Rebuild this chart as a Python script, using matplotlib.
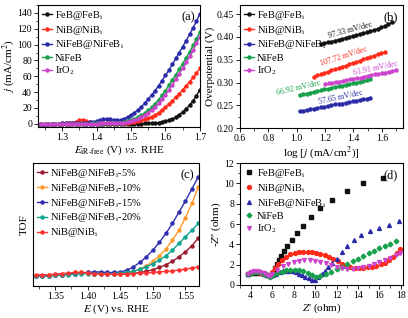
import matplotlib
matplotlib.use("Agg")
import matplotlib.pyplot as plt
import numpy as np
from matplotlib.ticker import AutoMinorLocator, MultipleLocator

plt.rcParams["font.family"] = ["Liberation Serif", "DejaVu Serif"]
plt.rcParams["mathtext.fontset"] = "stix"

# ---- (a) LSV curves ----
E_a = np.round(np.arange(1.23, 1.705, 0.01), 2)
lsv_feb = [-1.0, -0.8, -0.6, -0.5, -0.4, -0.3, -0.3, -0.2, -0.2, -0.2,
           -0.1, -0.1, -0.1, -0.1, -0.1, 0, 0, 0, 0, 0,
           0, 0, 0, 0, 0, 0, 0, 0, 0.1, 0.1,
           0.2, 0.3, 0.4, 0.6, 0.9, 1.4, 2.1, 3.0, 4.3, 6.0,
           8.2, 11.5, 15, 19, 23.5, 29, 35.5, 43]
lsv_nib = [-2.5, -2.0, -1.5, -1.0, -0.6, -0.3, 0, 0.3, 0.5, 0.8,
           1.3, 2.5, 4.2, 5.2, 3.8, 2.2, 1.4, 1.0, 0.8, 0.7,
           0.7, 0.7, 0.7, 0.7, 0.8, 1.0, 1.3, 1.8, 2.5, 3.3,
           4.3, 5.5, 7.0, 9.0, 11, 14, 17.5, 21, 25, 29,
           33.5, 38, 43, 48, 53, 58.5, 64, 70]
lsv_nifeb_core = [-2.0, -1.5, -1.0, -0.6, -0.3, 0, 0.2, 0.4, 0.5, 0.6,
                  0.7, 0.8, 0.9, 1.0, 1.2, 1.6, 2.3, 3.3, 4.5, 5.8,
                  6.3, 5.6, 4.5, 4.3, 5.0, 6.5, 8.5, 11, 14, 17.5,
                  21.5, 26, 31, 36.5, 42, 48, 54.5, 61, 68, 75,
                  82.5, 90, 97.5, 105, 113, 121, 130, 139]
lsv_nifeb = [-1.0, -0.8, -0.6, -0.4, -0.3, -0.2, -0.1, 0, 0, 0,
             0.1, 0.1, 0.1, 0.2, 0.2, 0.2, 0.3, 0.3, 0.3, 0.4,
             0.4, 0.5, 0.6, 1.0, 1.5, 2.2, 3.2, 4.5, 6, 8,
             10.5, 13.5, 17, 21, 25.5, 30.5, 36, 42, 49, 55.5,
             62, 69, 76, 83.5, 91, 99, 107.5, 116]
lsv_iro2 = [-0.8, -0.6, -0.5, -0.4, -0.3, -0.2, -0.1, 0, 0, 0,
            0.1, 0.1, 0.1, 0.1, 0.2, 0.2, 0.2, 0.2, 0.3, 0.3,
            0.3, 0.4, 0.5, 0.6, 1.0, 1.5, 2.3, 3.3, 4.6, 6.3,
            8.5, 11, 14, 17.5, 21.5, 26, 31, 36.5, 42.5, 49,
            56, 63, 70, 77.5, 85, 93, 101.5, 110]

# ---- (b) Tafel ----
tafel_x_feb = np.round(np.arange(1.17, 1.68, 0.025), 3)
tafel_feb = [0.384, 0.386, 0.388, 0.390, 0.392, 0.394, 0.396, 0.398, 0.400, 0.402,
             0.404, 0.406, 0.408, 0.410, 0.413, 0.415, 0.418, 0.421, 0.424, 0.428, 0.432]
tafel_x_nib = np.round(np.arange(1.12, 1.63, 0.025), 3)
tafel_nib = [0.313, 0.316, 0.318, 0.321, 0.324, 0.327, 0.329, 0.332, 0.335, 0.337,
             0.340, 0.343, 0.345, 0.348, 0.351, 0.354, 0.356, 0.359, 0.362, 0.364, 0.367]
tafel_x_core = np.round(np.arange(1.02, 1.53, 0.025), 3)
tafel_core = [0.237, 0.238, 0.240, 0.241, 0.243, 0.244, 0.246, 0.247, 0.249, 0.250,
              0.252, 0.253, 0.254, 0.256, 0.257, 0.259, 0.260, 0.262, 0.263, 0.265, 0.266]
tafel_x_nifeb = np.round(np.arange(1.02, 1.53, 0.025), 3)
tafel_nifeb = [0.273, 0.275, 0.276, 0.278, 0.280, 0.281, 0.283, 0.285, 0.286, 0.288,
               0.290, 0.292, 0.293, 0.295, 0.297, 0.298, 0.300, 0.302, 0.303, 0.305, 0.307]
tafel_x_iro2 = np.round(np.arange(1.20, 1.71, 0.025), 3)
tafel_iro2 = [0.296, 0.298, 0.299, 0.301, 0.302, 0.304, 0.305, 0.307, 0.308, 0.310,
              0.311, 0.313, 0.315, 0.316, 0.318, 0.319, 0.321, 0.322, 0.324, 0.325, 0.327]
tafel_slopes = ["97.33 mV/dec", "107.72 mV/dec", "57.65 mV/dec", "66.92 mV/dec", "61.91 mV/dec"]

# ---- (c) TOF ----
E_c = np.round(np.arange(1.32, 1.575, 0.01), 2)
tof_5 = [-0.01, -0.01, -0.005, 0, 0, 0.005, 0.01, 0.015, 0.015, 0.01,
         0.01, 0.01, 0.005, 0.005, 0.008, 0.012, 0.02, 0.03, 0.045, 0.065,
         0.09, 0.12, 0.16, 0.205, 0.26, 0.33]
tof_10 = [-0.01, -0.01, -0.005, 0, 0.005, 0.01, 0.02, 0.02, 0.02, 0.015,
          0.015, 0.01, 0.01, 0.01, 0.015, 0.03, 0.05, 0.08, 0.12, 0.17,
          0.23, 0.31, 0.40, 0.51, 0.64, 0.79]
tof_15 = [-0.01, -0.01, -0.01, -0.005, 0, 0.005, 0.01, 0.015, 0.02, 0.025,
          0.025, 0.02, 0.02, 0.025, 0.04, 0.07, 0.11, 0.16, 0.22, 0.29,
          0.37, 0.46, 0.56, 0.66, 0.77, 0.88]
tof_20 = [-0.01, -0.01, -0.01, -0.005, 0, 0, 0.005, 0.01, 0.01, 0.01,
          0.01, 0.01, 0.01, 0.015, 0.02, 0.03, 0.05, 0.07, 0.10, 0.13,
          0.17, 0.22, 0.28, 0.34, 0.40, 0.46]
tof_nib = [0, 0, 0, 0.005, 0.01, 0.015, 0.02, 0.02, 0.015, 0.01,
           0.005, 0.005, 0.005, 0.005, 0.008, 0.01, 0.013, 0.016, 0.02, 0.025,
           0.03, 0.035, 0.042, 0.05, 0.06, 0.07]

# ---- (d) Nyquist ----
z_feb = [3.8, 4.05, 4.3, 4.6, 4.9, 5.2, 5.5, 5.8, 6.04, 6.14, 6.3, 6.45, 6.6, 6.8, 7.08,
         7.4, 7.84, 8.28, 8.9, 9.6, 10.5, 11.6, 12.96, 14.5, 16.3]
zi_feb = [1.05, 1.15, 1.2, 1.2, 1.15, 1.05, 0.95, 0.9, 1.06, 1.32, 1.65, 2.05, 2.44, 2.87, 3.3,
          3.86, 4.42, 5.08, 5.84, 6.67, 7.56, 8.4, 9.3, 10.0, 10.56]
z_nib = [3.8, 4.05, 4.3, 4.6, 4.9, 5.2, 5.5, 5.8, 6.0, 6.25, 6.55, 6.9, 7.3, 7.7, 8.1, 8.5,
         8.9, 9.3, 9.7, 10.1, 10.5, 10.9, 11.3, 11.7, 12.1, 12.5, 12.9, 13.3, 13.7, 14.1,
         14.5, 14.9, 15.3, 15.7, 16.1, 16.5, 16.9, 17.3, 17.6, 17.9]
zi_nib = [1.1, 1.2, 1.25, 1.25, 1.2, 1.1, 0.95, 0.9, 1.25, 1.65, 2.1, 2.5, 2.8, 3.0, 3.15, 3.22,
          3.26, 3.26, 3.22, 3.15, 3.05, 2.92, 2.75, 2.55, 2.32, 2.1, 1.9, 1.75, 1.67, 1.65,
          1.67, 1.72, 1.8, 1.9, 2.02, 2.2, 2.45, 2.75, 3.1, 3.5]
z_core = [3.8, 4.05, 4.3, 4.6, 4.9, 5.2, 5.5, 5.8, 6.1, 6.4, 6.7, 7.0, 7.3, 7.6, 7.9, 8.2,
          8.5, 8.8, 9.1, 9.4, 9.7, 10.0, 10.3, 10.6, 10.9, 11.2, 11.6, 12.0, 12.5, 13.0,
          13.6, 14.3, 15.1, 16.0, 16.9, 17.8]
zi_core = [1.1, 1.3, 1.4, 1.4, 1.3, 1.15, 1.0, 0.85, 0.95, 1.1, 1.25, 1.35, 1.4, 1.4, 1.35, 1.25,
           1.1, 0.95, 0.8, 0.65, 0.5, 0.5, 0.75, 1.05, 1.4, 1.75, 2.15, 2.6, 3.2, 3.8,
           4.4, 4.9, 5.3, 5.6, 5.9, 6.3]
z_nifeb = [3.8, 4.05, 4.3, 4.6, 4.9, 5.2, 5.5, 5.8, 6.1, 6.5, 6.9, 7.3, 7.7, 8.1, 8.5, 8.9,
           9.3, 9.7, 10.1, 10.5, 11.0, 11.5, 12.0, 12.5, 13.0, 13.5, 14.0, 14.5, 15.0, 15.5,
           16.0, 16.5, 17.0, 17.5]
zi_nifeb = [1.05, 1.2, 1.3, 1.3, 1.25, 1.1, 0.95, 0.8, 0.95, 1.15, 1.3, 1.45, 1.5, 1.5, 1.45, 1.35,
            1.2, 1.0, 0.8, 0.85, 1.05, 1.3, 1.55, 1.8, 2.1, 2.35, 2.6, 2.85, 3.1, 3.35,
            3.6, 3.8, 4.05, 4.3]
z_iro2 = [3.8, 4.05, 4.3, 4.6, 4.9, 5.2, 5.5, 5.8, 6.0, 6.5, 7.0, 7.5, 8.0, 8.5, 9.0, 9.5,
          10.0, 10.5, 11.0, 11.5, 12.0, 12.5, 13.0, 13.5, 14.0, 14.5, 15.0, 15.5, 16.0, 16.5,
          17.0, 17.5, 17.9]
zi_iro2 = [1.1, 1.25, 1.35, 1.35, 1.3, 1.15, 1.0, 0.9, 1.1, 1.5, 1.85, 2.1, 2.3, 2.4, 2.45, 2.45,
           2.4, 2.3, 2.15, 1.95, 1.8, 1.65, 1.6, 1.6, 1.65, 1.75, 1.9, 2.05, 2.25, 2.45,
           2.7, 2.95, 3.15]

labels = ["FeB@FeB$_\\mathregular{i}$", "NiB@NiB$_\\mathregular{i}$",
          "NiFeB@NiFeB$_\\mathregular{i}$", "NiFeB", "IrO$_\\mathregular{2}$"]
colors = ["#111111", "#ff2a1a", "#2b2ba8", "#16a04a", "#cc44cc"]
tof_labels = ["NiFeB@NiFeB$_\\mathregular{i}$-5%", "NiFeB@NiFeB$_\\mathregular{i}$-10%",
              "NiFeB@NiFeB$_\\mathregular{i}$-15%", "NiFeB@NiFeB$_\\mathregular{i}$-20%",
              "NiB@NiB$_\\mathregular{i}$"]
tof_colors = ["#9b1b30", "#ff9a2e", "#2f2fb0", "#10a38f", "#ff3030"]

fig = plt.figure(figsize=(4.08, 3.18), dpi=100)
ax_a = fig.add_axes([0.093, 0.601, 0.397, 0.383])
ax_b = fig.add_axes([0.588, 0.597, 0.400, 0.387])
ax_c = fig.add_axes([0.081, 0.101, 0.407, 0.386])
ax_d = fig.add_axes([0.588, 0.104, 0.400, 0.383])


def style(ax):
    for s in ax.spines.values():
        s.set_linewidth(0.8)
    ax.tick_params(direction="out", length=3, width=0.6, labelsize=7, pad=1.2)
    ax.tick_params(which="minor", direction="out", length=1.8, width=0.5)


def legend(ax, **kw):
    ax.legend(loc="upper left", frameon=False, fontsize=7.5, handlelength=1.0,
              handletextpad=0.3, labelspacing=0.18, borderaxespad=0.15, borderpad=0.2, **kw)


line_kw = dict(marker="o", ms=2.2, lw=1.0)

# (a)
for y, lab, c in zip([lsv_feb, lsv_nib, lsv_nifeb_core, lsv_nifeb, lsv_iro2], labels, colors):
    ax_a.plot(E_a, y, color=c, label=lab, **line_kw)
ax_a.set_xlim(1.23, 1.70)
ax_a.set_ylim(-4, 150)
ax_a.xaxis.set_major_locator(MultipleLocator(0.1))
ax_a.yaxis.set_major_locator(MultipleLocator(20))
ax_a.xaxis.set_minor_locator(AutoMinorLocator(2))
ax_a.yaxis.set_minor_locator(AutoMinorLocator(2))
ax_a.set_xlabel(r"$E_{\mathrm{iR\text{-}free}}$ (V) $vs.$ RHE", fontsize=8, labelpad=1)
ax_a.set_ylabel(r"$j$ (mA/cm$^2$)", fontsize=8, labelpad=0.5)
ax_a.text(0.97, 0.95, "(a)", transform=ax_a.transAxes, ha="right", va="top", fontsize=9)
style(ax_a)
legend(ax_a)

# (b)
tafel = [(tafel_x_feb, tafel_feb), (tafel_x_nib, tafel_nib), (tafel_x_core, tafel_core),
         (tafel_x_nifeb, tafel_nifeb), (tafel_x_iro2, tafel_iro2)]
for (x, y), lab, c in zip(tafel, labels, colors):
    ax_b.plot(x, y, color=c, label=lab, **line_kw)
slope_pos = [(1.38, 0.415, 15), (1.33, 0.357, 18), (1.31, 0.267, 12), (1.01, 0.289, 13), (1.56, 0.332, 12)]
for txt, (x, y, r), c in zip(tafel_slopes, slope_pos, colors):
    ax_b.text(x, y, txt, color=c, fontsize=5.8, rotation=r, ha="center", va="center")
ax_b.set_xlim(0.6, 1.75)
ax_b.set_ylim(0.20, 0.47)
ax_b.xaxis.set_major_locator(MultipleLocator(0.2))
ax_b.yaxis.set_major_locator(MultipleLocator(0.05))
ax_b.xaxis.set_major_formatter(plt.FormatStrFormatter("%.1f"))
ax_b.yaxis.set_major_formatter(plt.FormatStrFormatter("%.2f"))
ax_b.xaxis.set_minor_locator(AutoMinorLocator(2))
ax_b.yaxis.set_minor_locator(AutoMinorLocator(2))
ax_b.set_xlabel(r"log [$j$ (mA/cm$^2$)]", fontsize=8, labelpad=1)
ax_b.set_ylabel("Overpotential (V)", fontsize=8, labelpad=1)
ax_b.text(0.97, 0.95, "(b)", transform=ax_b.transAxes, ha="right", va="top", fontsize=9)
style(ax_b)
legend(ax_b)

# (c)
for y, lab, c in zip([tof_5, tof_10, tof_15, tof_20, tof_nib], tof_labels, tof_colors):
    ax_c.plot(E_c, y, color=c, label=lab, **line_kw)
ax_c.set_xlim(1.316, 1.571)
ax_c.set_ylim(-0.1, 1.0)
ax_c.xaxis.set_major_locator(MultipleLocator(0.05))
ax_c.xaxis.set_major_formatter(plt.FormatStrFormatter("%.2f"))
ax_c.xaxis.set_minor_locator(AutoMinorLocator(2))
ax_c.set_yticks([])
ax_c.set_xlabel(r"$E$ (V) vs. RHE", fontsize=8, labelpad=1)
ax_c.set_ylabel("TOF", fontsize=8, labelpad=3)
ax_c.text(0.97, 0.95, "(c)", transform=ax_c.transAxes, ha="right", va="top", fontsize=9)
style(ax_c)
legend(ax_c)

# (d)
nyq = [(z_feb, zi_feb, "s"), (z_nib, zi_nib, "o"), (z_core, zi_core, "^"),
       (z_nifeb, zi_nifeb, "D"), (z_iro2, zi_iro2, "v")]
for (x, y, m), lab, c in zip(nyq, labels, colors):
    ax_d.plot(x, y, ls="none", marker=m, ms=2.8 if m != "D" else 2.4, color=c, label=lab)
ax_d.set_xlim(3.0, 18.2)
ax_d.set_ylim(0, 12)
ax_d.xaxis.set_major_locator(MultipleLocator(2))
ax_d.yaxis.set_major_locator(MultipleLocator(2))
ax_d.xaxis.set_minor_locator(AutoMinorLocator(2))
ax_d.yaxis.set_minor_locator(AutoMinorLocator(2))
ax_d.set_xlabel("$Z$' (ohm)", fontsize=8, labelpad=1)
ax_d.set_ylabel("-$Z$'' (ohm)", fontsize=8, labelpad=1)
ax_d.text(0.97, 0.95, "(d)", transform=ax_d.transAxes, ha="right", va="top", fontsize=9)
style(ax_d)
legend(ax_d, markerscale=1.0)

fig.savefig("out.png", dpi=100)
